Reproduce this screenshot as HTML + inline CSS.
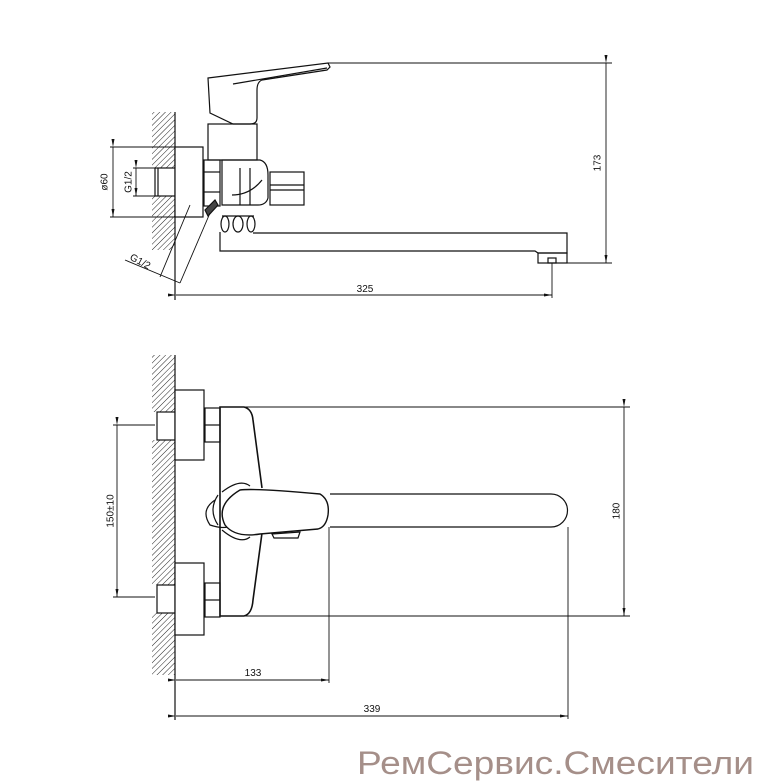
<!DOCTYPE html>
<html><head><meta charset="utf-8"><style>
html,body{margin:0;padding:0;background:#fff;width:763px;height:783px;overflow:hidden}
svg{display:block}
text{font-family:"Liberation Sans",sans-serif;fill:#111}
</style></head><body>
<svg width="763" height="783" viewBox="0 0 763 783" xmlns="http://www.w3.org/2000/svg">
<defs>
<pattern id="h" width="4" height="4" patternUnits="userSpaceOnUse" patternTransform="rotate(45)">
<line x1="0" y1="0" x2="0" y2="4" stroke="#222" stroke-width="1"/>
</pattern>
<marker id="a" markerWidth="8" markerHeight="6" refX="8" refY="3" orient="auto" markerUnits="userSpaceOnUse"><path d="M0,1.5 L8,3 L0,4.5z" fill="#111"/></marker>
</defs>
<g fill="none" stroke="#111" stroke-width="1.2">
<!-- TOP VIEW -->
<rect x="152" y="112" width="23" height="56" fill="url(#h)" stroke="none"/>
<rect x="152" y="196" width="23" height="54" fill="url(#h)" stroke="none"/>
<line x1="175" y1="112" x2="175" y2="300"/>
<rect x="155" y="168" width="20" height="28" fill="#fff"/>
<line x1="158" y1="168" x2="158" y2="196"/>
<rect x="175" y="147" width="28" height="70" fill="#fff"/>
<rect x="204" y="160" width="16" height="46"/>
<line x1="204" y1="172" x2="220" y2="172"/><line x1="204" y1="192" x2="220" y2="192"/>
<path d="M208,78 L328,63 L330,67 L327,70 L262,80 Q257,82 257,90 L257,118 Q257,124 250,124 L233,124 L210,113 Z"/>
<line x1="233" y1="84" x2="327" y2="68"/>
<rect x="208" y="124" width="49" height="36"/>
<path d="M222,160 L260,160 Q268,162 268,175 L268,198 Q266,205 258,205 L222,205 Z"/>
<line x1="240" y1="168" x2="240" y2="205"/><line x1="250" y1="168" x2="250" y2="205"/>
<path d="M232,195 Q250,195 262,180"/>
<rect x="270" y="172" width="34" height="33"/>
<line x1="270" y1="185" x2="304" y2="185"/><line x1="270" y1="190" x2="304" y2="190"/>
<ellipse cx="225" cy="224" rx="4" ry="8"/><ellipse cx="238" cy="224" rx="5" ry="8"/><ellipse cx="251" cy="224" rx="4" ry="8"/>
<line x1="222" y1="216" x2="254" y2="216"/>
<path d="M253,233 L567,233 L567,253 L538,253 L535,251 L220,251 L220,232"/>
<rect x="538" y="253" width="29" height="10"/>
<rect x="548" y="258" width="8" height="5"/>
<path d="M205,210 L215,200 L218,205 L208,216 Z" fill="#444"/>
<g stroke-width="0.9">
<line x1="328" y1="63" x2="612" y2="63"/>
<line x1="567" y1="263" x2="612" y2="263"/>
<line x1="606" y1="63" x2="606" y2="263" marker-start="url(#a)" marker-end="url(#a)"/>
<line x1="552" y1="263" x2="552" y2="298"/>
<line x1="176" y1="295" x2="552" y2="295" marker-start="url(#a)" marker-end="url(#a)"/>
<line x1="110" y1="147" x2="175" y2="147"/><line x1="110" y1="217" x2="175" y2="217"/>
<line x1="113" y1="147" x2="113" y2="217" marker-start="url(#a)" marker-end="url(#a)"/>
<line x1="133" y1="168" x2="158" y2="168"/><line x1="133" y1="196" x2="158" y2="196"/>
<line x1="136" y1="168" x2="136" y2="196" marker-start="url(#a)" marker-end="url(#a)"/>
<line x1="190" y1="205" x2="160" y2="277"/>
<line x1="210" y1="213" x2="180" y2="283"/>
<line x1="125" y1="260" x2="180" y2="283"/>
</g>
<!-- BOTTOM VIEW -->
<rect x="152" y="355" width="23" height="57" fill="url(#h)" stroke="none"/>
<rect x="152" y="440" width="23" height="145" fill="url(#h)" stroke="none"/>
<rect x="152" y="613" width="23" height="62" fill="url(#h)" stroke="none"/>
<line x1="175" y1="355" x2="175" y2="720"/>
<rect x="157" y="412" width="18" height="28" fill="#fff"/>
<rect x="157" y="585" width="18" height="28" fill="#fff"/>
<rect x="175" y="390" width="29" height="70" fill="#fff"/>
<rect x="175" y="563" width="29" height="72" fill="#fff"/>
<rect x="205" y="408" width="15" height="34"/><line x1="205" y1="425" x2="220" y2="425"/>
<rect x="205" y="583" width="15" height="34"/><line x1="205" y1="600" x2="220" y2="600"/>
<path d="M262,488 L253,420 Q252,409 244,407 L220,407 L220,616 L244,616 Q252,614 253,600 L262,533" stroke-width="1.6"/>
<path d="M222,492 Q240,478 250,486 M222,530 Q240,545 250,537"/>
<path d="M215,500 Q200,510 210,525 Q225,530 232,525" />
<path d="M218,495 Q208,510 218,525"/>
<path d="M240,490 Q255,488 320,494 Q330,500 328,515 Q326,527 318,529 L260,534 Q235,538 225,525 Q215,505 240,490 Z" stroke-width="1.4" fill="#fff"/>
<path d="M272,534 L300,532 L298,538 L274,538 Z"/>
<path d="M330,494 L551,494 A16.5,16.5 0 0 1 551,527 L330,527"/>
<g stroke-width="0.9">
<line x1="245" y1="407" x2="630" y2="407"/>
<line x1="245" y1="616" x2="630" y2="616"/>
<line x1="624" y1="407" x2="624" y2="616" marker-start="url(#a)" marker-end="url(#a)"/>
<line x1="113" y1="425" x2="155" y2="425"/><line x1="113" y1="597" x2="155" y2="597"/>
<line x1="117" y1="425" x2="117" y2="597" marker-start="url(#a)" marker-end="url(#a)"/>
<line x1="329" y1="527" x2="329" y2="683"/>
<line x1="176" y1="680" x2="329" y2="680" marker-start="url(#a)" marker-end="url(#a)"/>
<line x1="568" y1="527" x2="568" y2="719"/>
<line x1="176" y1="716" x2="568" y2="716" marker-start="url(#a)" marker-end="url(#a)"/>
</g>
</g>
<g font-size="10">
<text x="598" y="163" transform="rotate(-90 598 163)" text-anchor="middle" dominant-baseline="middle">173</text>
<text x="365" y="292" text-anchor="middle">325</text>
<text x="105" y="182" transform="rotate(-90 105 182)" text-anchor="middle" dominant-baseline="middle">ø60</text>
<text x="129" y="182" transform="rotate(-90 129 182)" text-anchor="middle" dominant-baseline="middle">G1/2</text>
<text x="140" y="262" transform="rotate(28 140 262)" text-anchor="middle" dominant-baseline="middle">G1/2</text>
<text x="617" y="511" transform="rotate(-90 617 511)" text-anchor="middle" dominant-baseline="middle">180</text>
<text x="111" y="511" transform="rotate(-90 111 511)" text-anchor="middle" dominant-baseline="middle">150±10</text>
<text x="253" y="676" text-anchor="middle">133</text>
<text x="372" y="712" text-anchor="middle">339</text>
</g>
<text x="357" y="774" font-size="32" textLength="397" lengthAdjust="spacingAndGlyphs" style="fill:#a58f89">РемСервис.Смесители</text>
</svg>
</body></html>
